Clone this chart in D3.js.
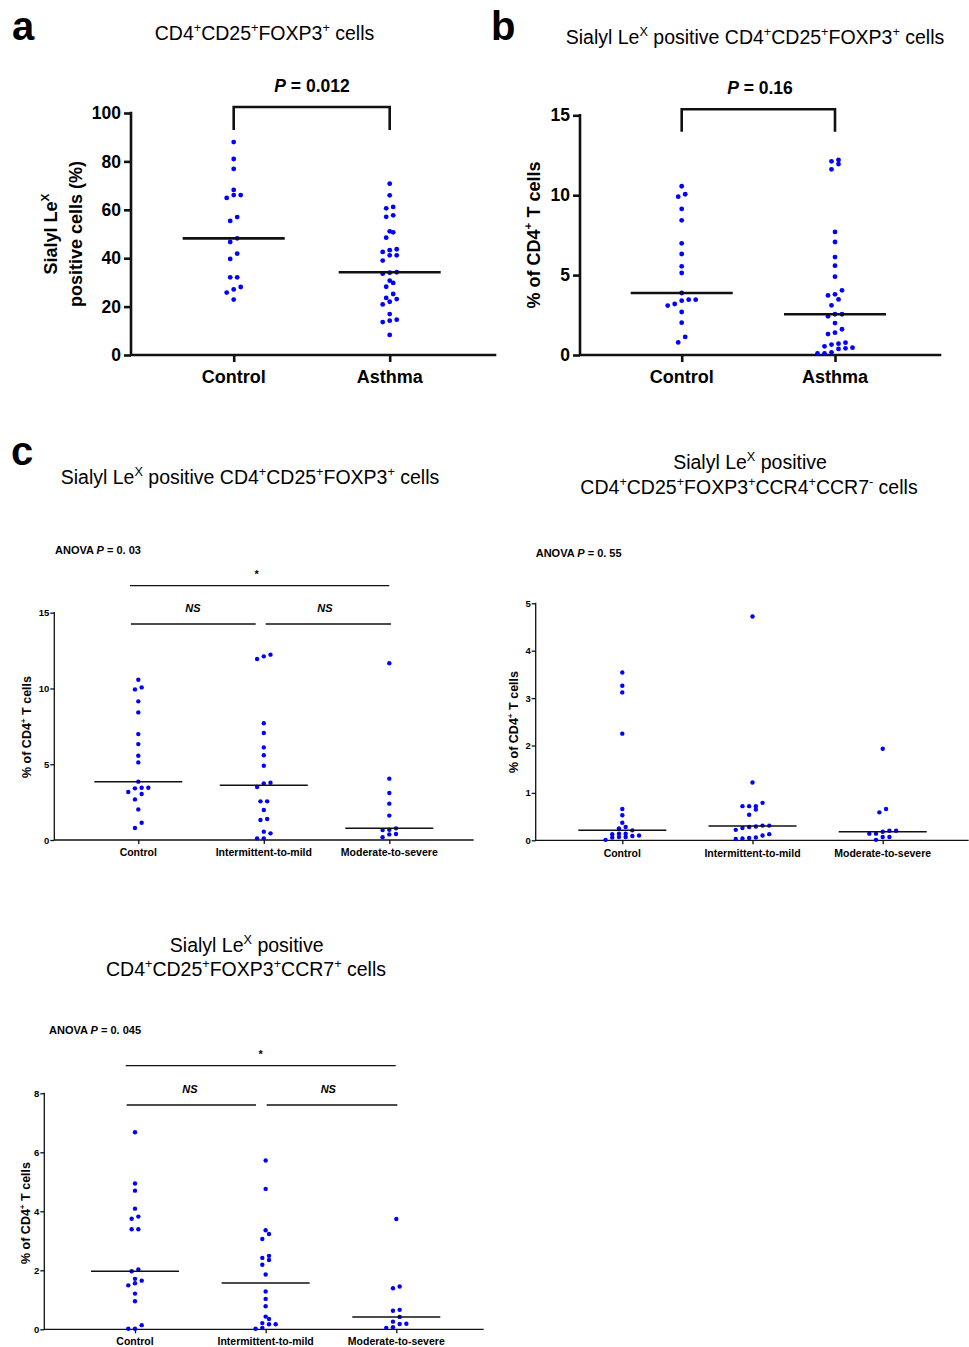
<!DOCTYPE html>
<html><head><meta charset="utf-8">
<script src="https://cdn.jsdelivr.net/npm/d3@7"></script>
<style>
body{margin:0;background:#fff}
svg{display:block}
text{font-family:"Liberation Sans",Arial,Helvetica,sans-serif;fill:#000}
</style>
</head><body>
<svg id="chart" width="969" height="1347"></svg>
<script>
// ---------------- data ----------------
const groupsAB = ["Control", "Asthma"];
const groupsC = ["Control", "Intermittent-to-mild", "Moderate-to-severe"];

const aControl = [88.0, 81.0, 76.9, 68.2, 66.1, 66.1, 64.9, 57.0, 55.4, 48.2, 46.7, 41.9, 39.7, 32.1, 32.1, 28.1, 27.1, 25.8, 22.9];
const aAsthma = [70.8, 66.0, 61.2, 60.6, 57.7, 57.1, 51.1, 50.7, 48.5, 43.7, 43.3, 42.6, 41.2, 41.2, 39.0, 34.2, 34.0, 33.6, 30.7, 29.8, 28.2, 25.2, 23.6, 23.1, 22.0, 20.9, 16.9, 14.6, 14.2, 13.6, 8.3];

const bControl = [10.56, 10.06, 9.91, 9.14, 8.43, 6.99, 6.32, 5.55, 5.13, 3.88, 3.46, 3.46, 3.40, 3.19, 3.09, 2.69, 2.02, 1.13, 0.79];
const bAsthma = [12.21, 12.12, 11.95, 11.62, 7.70, 7.07, 6.13, 5.59, 4.90, 4.05, 3.80, 3.73, 3.48, 3.11, 2.55, 2.55, 2.42, 2.00, 1.61, 1.40, 1.31, 0.77, 0.71, 0.65, 0.54, 0.46, 0.42, 0.38, 0.17, 0.10, 0.10];

const c1Control = [10.58, 10.07, 9.94, 9.15, 8.42, 6.99, 6.33, 5.56, 5.12, 3.85, 3.45, 3.45, 3.41, 3.17, 3.04, 2.68, 2.02, 1.14, 0.79];
const c1Mild = [12.23, 12.12, 11.94, 7.70, 7.06, 6.11, 5.59, 4.90, 3.78, 3.74, 3.50, 2.55, 2.55, 1.98, 1.39, 1.32, 0.55, 0.44, 0.11, 0.11];
const c1Severe = [11.66, 4.05, 3.10, 2.40, 1.61, 0.77, 0.68, 0.66, 0.40, 0.37, 0.18];

const c2Control = [3.54, 3.26, 3.12, 2.25, 0.66, 0.53, 0.37, 0.28, 0.25, 0.21, 0.14, 0.14, 0.13, 0.10, 0.09, 0.07, 0.07, 0.06, 0.01];
const c2Mild = [4.72, 1.22, 0.79, 0.72, 0.72, 0.72, 0.65, 0.54, 0.31, 0.31, 0.29, 0.28, 0.26, 0.22, 0.13, 0.10, 0.06, 0.05, 0.04, 0.03];
const c2Severe = [1.93, 0.66, 0.59, 0.20, 0.20, 0.18, 0.14, 0.14, 0.07, 0.07, 0.01];

const c3Control = [6.68, 4.94, 4.70, 4.09, 3.82, 3.75, 3.39, 3.39, 2.03, 1.97, 1.71, 1.65, 1.56, 1.49, 1.21, 0.95, 0.14, 0.02, 0.02];
const c3Mild = [5.72, 4.76, 3.36, 3.23, 3.06, 2.49, 2.42, 2.35, 2.19, 1.86, 1.28, 1.03, 0.78, 0.43, 0.35, 0.21, 0.17, 0.17, 0.05, 0.02];
const c3Severe = [3.74, 1.45, 1.39, 0.66, 0.63, 0.42, 0.26, 0.19, 0.18, 0.07, 0.05];

const aTicks = [0, 20, 40, 60, 80, 100];
const bTicks = [0, 5, 10, 15];
const c1Ticks = [0, 5, 10, 15];
const c2Ticks = [0, 1, 2, 3, 4, 5];
const c3Ticks = [0, 2, 4, 6, 8];

const titleA = "CD4^+CD25^+FOXP3^+ cells";
const titleB = "Sialyl Le^X positive CD4^+CD25^+FOXP3^+ cells";
const titleC1 = ["Sialyl Le^X positive CD4^+CD25^+FOXP3^+ cells"];
const titleC2 = ["Sialyl Le^X positive", "CD4^+CD25^+FOXP3^+CCR4^+CCR7^- cells"];
const titleC3 = ["Sialyl Le^X positive", "CD4^+CD25^+FOXP3^+CCR7^+ cells"];
const pA = "_P_ = 0.012";
const pB = "_P_ = 0.16";
const anovaC1 = "ANOVA _P_ = 0. 03";
const anovaC2 = "ANOVA _P_ = 0. 55";
const anovaC3 = "ANOVA _P_ = 0. 045";
const yLabelA = ["Sialyl Le^X", "positive cells (%)"];
const yLabelPct = "% of CD4^+ T cells";

// ---------------- helpers ----------------
const svg = d3.select("#chart");
const INK = "#111";
const DOT = "#0000ff";

function rich(sel, str, size) {
  const parts = str.split(/(\^.|_[^_]+_)/).filter(s => s.length);
  let raised = false;
  parts.forEach(s => {
    if (s[0] === "^") {
      sel.append("tspan").attr("font-size", size * 0.65).attr("dy", -size * 0.4).text(s[1]);
      raised = true;
    } else {
      const t = sel.append("tspan").attr("font-size", size).attr("dy", raised ? size * 0.4 : 0);
      if (s[0] === "_") t.attr("font-style", "italic").text(s.slice(1, -1));
      else t.text(s);
      raised = false;
    }
  });
  return sel;
}

function label(x, y, str, size, opts = {}) {
  const t = svg.append("text")
    .attr("x", x).attr("y", y)
    .attr("text-anchor", opts.anchor || "middle")
    .attr("font-weight", opts.bold ? "bold" : "normal")
    .attr("font-style", opts.italic ? "italic" : "normal");
  if (opts.rotate) t.attr("transform", `rotate(-90,${x},${y})`);
  rich(t, str, size);
  return t;
}

function swarm(values, y, binPx, step) {
  const pts = values.map(v => ({ v, py: y(v) })).sort((a, b) => a.v - b.v);
  const rows = [];
  let cur = null;
  pts.forEach(p => {
    if (cur && (cur[0].py - p.py) < binPx) cur.push(p);
    else { cur = [p]; rows.push(cur); }
  });
  rows.forEach(r => {
    const n = r.length;
    r.forEach((p, i) => { p.dx = (i - (n - 1) / 2) * step; });
  });
  return pts;
}

function panel(cfg) {
  const g = svg.append("g");
  const y = d3.scaleLinear().domain(cfg.domain).range([cfg.bottom, cfg.top]);
  const x = d3.scalePoint().domain(cfg.groups).range(cfg.catRange);

  const ya = g.append("g").attr("transform", `translate(${cfg.axisX},0)`)
    .call(d3.axisLeft(y).tickValues(cfg.ticks).tickFormat(d3.format("d"))
      .tickSize(cfg.tickLen).tickSizeOuter(0).tickPadding(cfg.tickPad));
  ya.select(".domain").remove();
  ya.selectAll("line").attr("stroke", INK).attr("stroke-width", cfg.sw);
  ya.selectAll("text").attr("font-size", cfg.tickFont).attr("font-weight", "bold")
    .attr("font-family", '"Liberation Sans",Arial,sans-serif').attr("fill", "#000");

  const xa = g.append("g").attr("transform", `translate(0,${cfg.bottom})`)
    .call(d3.axisBottom(x).tickSize(cfg.tickLen).tickSizeOuter(0).tickFormat(""));
  xa.select(".domain").remove();
  xa.selectAll("line").attr("stroke", INK).attr("stroke-width", cfg.sw);

  g.append("path")
    .attr("d", `M${cfg.axisX},${cfg.top}V${cfg.bottom}H${cfg.xEnd}`)
    .attr("fill", "none").attr("stroke", INK).attr("stroke-width", cfg.sw)
    .attr("stroke-linecap", "square").attr("stroke-linejoin", "miter");

  cfg.groups.forEach(gr => {
    label(x(gr), cfg.catLabelY, gr, cfg.catFont, { bold: true });
  });

  cfg.series.forEach((vals, i) => {
    const cx = x(cfg.groups[i]);
    const pts = swarm(vals, y, cfg.binPx, cfg.step);
    g.append("g").selectAll("circle").data(pts).join("circle")
      .attr("cx", d => cx + d.dx).attr("cy", d => d.py)
      .attr("r", cfg.r).attr("fill", DOT);
    const m = d3.median(vals);
    g.append("line")
      .attr("x1", cx - cfg.medHalf).attr("x2", cx + cfg.medHalf)
      .attr("y1", y(m)).attr("y2", y(m))
      .attr("stroke", INK).attr("stroke-width", cfg.medSw);
  });
  return { x, y };
}

function bracket(x1, x2, yTop, yBot, sw) {
  svg.append("path").attr("d", `M${x1},${yBot}V${yTop}H${x2}V${yBot}`)
    .attr("fill", "none").attr("stroke", INK).attr("stroke-width", sw);
}
function hline(x1, x2, yy, sw) {
  svg.append("line").attr("x1", x1).attr("x2", x2).attr("y1", yy).attr("y2", yy)
    .attr("stroke", INK).attr("stroke-width", sw);
}

// ---------------- panel a ----------------
label(12, 40, "a", 40, { anchor: "start", bold: true });
label(264.5, 40, titleA, 19.5);
const pa = panel({
  groups: groupsAB, series: [aControl, aAsthma], domain: [0, 100], ticks: aTicks,
  axisX: 131, top: 113, bottom: 355, xEnd: 495, catRange: [233.7, 389.7],
  tickLen: 7, tickPad: 3, tickFont: 17.5, sw: 2.6, catFont: 18, catLabelY: 382.5,
  r: 2.4, step: 7, binPx: 6, medHalf: 51, medSw: 2.6
});
bracket(pa.x("Control"), pa.x("Asthma"), 107, 130, 2.6);
label(312, 91.5, pA, 17.5, { bold: true });
label(56.5, 234, yLabelA[0], 18, { bold: true, rotate: true });
label(81.5, 234, yLabelA[1], 18, { bold: true, rotate: true });

// ---------------- panel b ----------------
label(491, 40, "b", 40, { anchor: "start", bold: true });
label(755, 44, titleB, 19.5);
const pb = panel({
  groups: groupsAB, series: [bControl, bAsthma], domain: [0, 15], ticks: bTicks,
  axisX: 580, top: 115.3, bottom: 355, xEnd: 940, catRange: [681.7, 835],
  tickLen: 7, tickPad: 3, tickFont: 17.5, sw: 2.6, catFont: 18, catLabelY: 382.5,
  r: 2.4, step: 7, binPx: 6, medHalf: 51, medSw: 2.6
});
bracket(pb.x("Control"), pb.x("Asthma"), 109.3, 131.7, 2.6);
label(760, 94, pB, 17.5, { bold: true });
label(539.5, 235, yLabelPct, 18, { bold: true, rotate: true });

// ---------------- panel c ----------------
label(11, 465, "c", 40, { anchor: "start", bold: true });

const cStyle = {
  tickLen: 4, tickPad: 1, tickFont: 9.5, sw: 1.3, catFont: 10.5,
  r: 2.2, step: 6.7, binPx: 5.5, medHalf: 44, medSw: 1.5
};

// c1
label(250, 483.5, titleC1[0], 19.5);
label(55, 554, anovaC1, 11, { anchor: "start", bold: true });
panel(Object.assign({
  groups: groupsC, series: [c1Control, c1Mild, c1Severe], domain: [0, 15], ticks: c1Ticks,
  axisX: 54.3, top: 612.7, bottom: 840, xEnd: 473, catRange: [138.3, 389.3], catLabelY: 855.5
}, cStyle));
hline(130, 389.3, 585.7, 1.3);
label(256.7, 578, "*", 11, { bold: true });
hline(131, 255.7, 624, 1.3);
hline(265.7, 391, 624, 1.3);
label(193, 612, "NS", 11, { bold: true, italic: true });
label(325, 612, "NS", 11, { bold: true, italic: true });
label(31, 727, yLabelPct, 12.5, { bold: true, rotate: true });

// c2
label(750, 468.5, titleC2[0], 19.5);
label(749, 493.5, titleC2[1], 19.5);
label(535.7, 557, anovaC2, 11, { anchor: "start", bold: true });
panel(Object.assign({
  groups: groupsC, series: [c2Control, c2Mild, c2Severe], domain: [0, 5], ticks: c2Ticks,
  axisX: 535.7, top: 603.3, bottom: 840.3, xEnd: 968, catRange: [622.3, 882.7], catLabelY: 856.5
}, cStyle));
label(517.5, 722, yLabelPct, 12.5, { bold: true, rotate: true });

// c3
label(246.7, 951.8, titleC3[0], 19.5);
label(246, 976, titleC3[1], 19.5);
label(49, 1034, anovaC3, 11, { anchor: "start", bold: true });
panel(Object.assign({
  groups: groupsC, series: [c3Control, c3Mild, c3Severe], domain: [0, 8], ticks: c3Ticks,
  axisX: 44.3, top: 1093.3, bottom: 1329.3, xEnd: 483, catRange: [135, 396.3], catLabelY: 1345
}, cStyle));
hline(125.7, 395.7, 1065.7, 1.3);
label(260.7, 1058, "*", 11, { bold: true });
hline(126.7, 256, 1105, 1.3);
hline(266.7, 397.3, 1105, 1.3);
label(190, 1093.3, "NS", 11, { bold: true, italic: true });
label(328.3, 1093.3, "NS", 11, { bold: true, italic: true });
label(29.5, 1213, yLabelPct, 12.5, { bold: true, rotate: true });
</script>
</body></html>
